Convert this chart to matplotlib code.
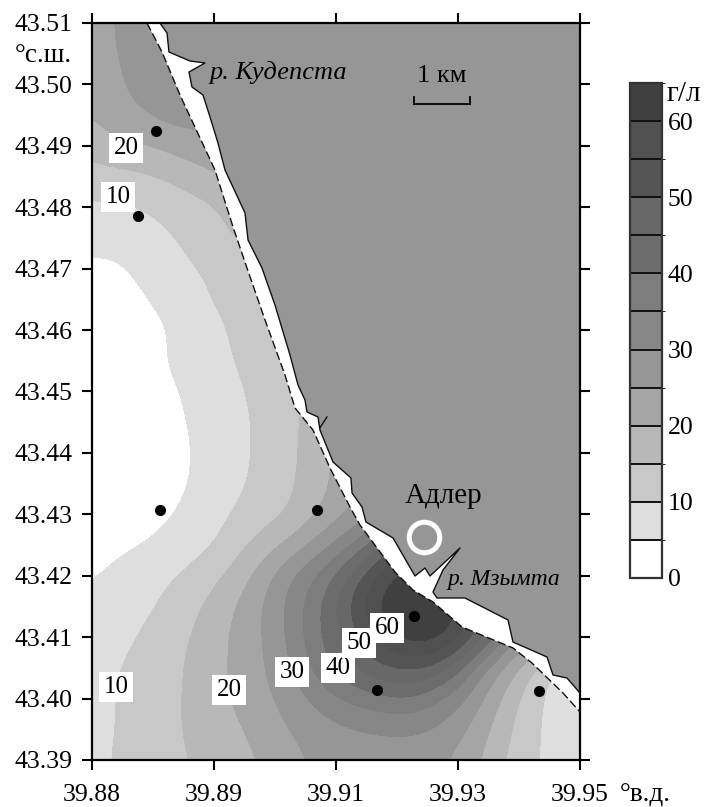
import numpy as np
import matplotlib
matplotlib.use("Agg")
import matplotlib.pyplot as plt
from matplotlib.colors import ListedColormap, BoundaryNorm
from matplotlib.lines import Line2D

plt.rcParams['font.family'] = ['Liberation Serif', 'DejaVu Serif']

W, H = 706, 807

# salinity, rows from north to south, columns from west to east
grid_lon = np.linspace(39.88, 39.95, 21)
grid_lat = np.linspace(43.51, 43.39, 25)
field = np.array([
    [22, 25.5, 28, 28, 28, 28, 28, 28, 28, 28, 28, 28, 28, 28, 28, 28, 28, 28, 28, 28, 28],
    [22, 25, 27.5, 28, 28, 28, 28, 28, 28, 28, 28, 28, 28, 28, 28, 28, 28, 28, 28, 28, 28],
    [21.5, 24, 27, 28, 28, 28, 28, 28, 28, 28, 28, 28, 28, 28, 28, 28, 28, 28, 28, 28, 28],
    [20.3, 23, 24.5, 27, 27, 27, 27, 28, 28, 28, 28, 28, 28, 28, 28, 28, 28, 28, 28, 28, 28],
    [17, 19.3, 19.7, 21, 23, 24, 25, 26, 28, 28, 28, 28, 28, 28, 28, 28, 28, 28, 28, 28, 28],
    [12.9, 13.3, 14.2, 15.5, 17.2, 19.5, 21, 22, 24, 26, 28, 28, 28, 28, 28, 28, 28, 28, 28, 28, 28],
    [9.2, 9.2, 9.8, 11.3, 13, 14.2, 17, 17, 18, 20, 24, 28, 28, 28, 28, 28, 28, 28, 28, 28, 28],
    [6.5, 6.6, 8, 9.3, 11.4, 13.9, 15.5, 15.5, 16, 18, 22, 28, 28, 28, 28, 28, 28, 28, 28, 28, 28],
    [4, 4.2, 5.7, 7, 9.5, 11, 13.5, 14, 14, 16, 20, 25, 28, 28, 28, 28, 28, 28, 28, 28, 28],
    [3.5, 3.6, 4.6, 6, 8, 10.4, 12, 13, 13.5, 15, 18, 24, 28, 28, 28, 28, 28, 28, 28, 28, 28],
    [3, 3, 3.6, 4.6, 6.8, 8.8, 11, 13, 14, 14.5, 16, 22, 28, 28, 28, 28, 28, 28, 28, 28, 28],
    [3, 3, 3, 5, 6.8, 8.6, 10.4, 12, 14, 14.5, 16, 20, 26, 28, 28, 28, 28, 28, 28, 28, 28],
    [3, 3, 3, 3.9, 5.8, 7.5, 9.5, 11.4, 13.8, 15.5, 17, 20, 24, 28, 28, 28, 28, 28, 28, 28, 28],
    [2.8, 2.8, 2.8, 3.5, 5.2, 7, 9, 11, 13.7, 16.5, 19, 21, 24, 28, 28, 28, 28, 28, 28, 28, 28],
    [2.8, 2.8, 2.9, 3.2, 4.8, 6.9, 8.9, 11, 13.6, 16.8, 21, 24, 26, 28, 28, 28, 28, 28, 28, 28, 28],
    [2.8, 2.8, 3, 3.4, 5, 7.1, 9.2, 11.5, 14, 17, 21, 25, 28, 30, 28, 28, 28, 28, 28, 28, 28],
    [3, 3.3, 3.8, 4.4, 6, 8.4, 10.7, 12.8, 14.8, 18.8, 23.2, 26.5, 32, 36, 30, 28, 28, 28, 28, 28, 28],
    [3.7, 4.1, 4.7, 5.9, 7.9, 9.8, 13.6, 17.2, 21, 25.8, 31, 37.5, 47, 52, 45, 35, 28, 28, 28, 28, 28],
    [4.6, 5.8, 7.6, 9.3, 11.2, 13.9, 17.5, 22.7, 29.2, 34.6, 41, 50, 58.5, 64, 62, 52, 35, 28, 28, 28, 28],
    [6, 7.8, 8.9, 10.8, 13.5, 16.8, 20.7, 25.2, 31, 37.4, 45.4, 55, 63, 66, 65, 61, 52, 40, 30, 28, 28],
    [7.5, 8.9, 10.2, 12.5, 15, 18.2, 21.3, 25, 30.5, 37.4, 44, 50.5, 58, 63, 63, 58, 47, 35, 28, 28, 28],
    [9, 9.7, 11.3, 13.3, 15.6, 18.5, 21.3, 24.6, 29, 35.8, 41, 47, 50, 51, 49.6, 41.8, 31, 23.3, 15.7, 8, 7],
    [8.5, 10, 11.9, 13.7, 15.6, 18.8, 20.8, 23.7, 26.8, 30.5, 35, 37, 39, 39.9, 36, 31.8, 25.3, 18.3, 11.8, 8, 7],
    [8.5, 10, 12.2, 13.8, 15.6, 17.6, 19.5, 22, 25, 26.9, 28.4, 29.8, 30.4, 30.5, 29.8, 26.5, 22, 16, 11.3, 8, 7],
    [8.5, 10.5, 12, 13.5, 15, 16.7, 18.5, 20.3, 23, 25.6, 26.5, 27, 27.2, 27.2, 26, 24, 19.6, 14.5, 11, 8, 7],
])

levels = list(range(0, 70, 5))
greys = ['#ffffff', '#dedede', '#c8c8c8', '#b8b8b8', '#a5a5a5', '#969696', '#878787',
         '#7d7d7d', '#6c6c6c', '#686868', '#545454', '#505050', '#404040']
cbar_ticks = [0, 10, 20, 30, 40, 50, 60]

# land side of the coast, with both river mouths
shore_lon = [39.88975, 39.89076, 39.89104, 39.89406, 39.89621, 39.89391, 39.89434, 39.89592,
             39.89693, 39.89807, 39.89908, 39.90195, 39.90238, 39.90438, 39.90625, 39.9084,
             39.90955, 39.91055, 39.91084, 39.91242, 39.9127, 39.91457, 39.91715, 39.9173,
             39.91873, 39.9193, 39.92318, 39.92633, 39.92777, 39.92848, 39.93279, 39.93035,
             39.92891, 39.92949, 39.9335, 39.93967, 39.94039, 39.94527, 39.94613, 39.94813, 39.95]
shore_lat = [43.51, 43.50837, 43.50528, 43.50381, 43.50349, 43.50202, 43.49958, 43.49828,
             43.49469, 43.49046, 43.48606, 43.47906, 43.47467, 43.47011, 43.46408, 43.45594,
             43.45106, 43.44862, 43.44666, 43.44585, 43.44373, 43.43852, 43.43592, 43.43347,
             43.43119, 43.42875, 43.42615, 43.41996, 43.42126, 43.41996, 43.42452, 43.42094,
             43.41735, 43.41638, 43.41638, 43.4128, 43.40921, 43.40677, 43.40384, 43.40335, 43.40091]

# sea side edge of the white strip
edge_lon = [39.88789, 39.89004, 39.89262, 39.89764, 39.90023, 39.90223, 39.90482, 39.90768,
            39.90912, 39.9117, 39.91414, 39.91701, 39.91844, 39.92346, 39.92604, 39.92891,
            39.93307, 39.94039, 39.94311, 39.94756, 39.95]
edge_lat = [43.51, 43.50528, 43.49828, 43.48606, 43.47678, 43.47011, 43.46164, 43.45269,
            43.44731, 43.44373, 43.43754, 43.43119, 43.42826, 43.42061, 43.41768, 43.41573,
            43.41166, 43.40824, 43.40579, 43.40091, 43.39782]

creek_lon = [39.9127, 39.9137]
creek_lat = [43.4441, 43.44585]

station_lon = [39.88918, 39.8866, 39.88975, 39.91227, 39.92619, 39.92088, 39.94412]
station_lat = [43.49241, 43.47857, 43.43071, 43.43071, 43.41345, 43.4014, 43.40123]

x_ticks = [39.88, 39.8975, 39.915, 39.9325, 39.95]
x_labels = ['39.88', '39.89', '39.91', '39.93', '39.95']
y_ticks = [43.39, 43.40, 43.41, 43.42, 43.43, 43.44, 43.45, 43.46, 43.47, 43.48, 43.49, 43.50, 43.51]

# contour labels: text, pixel x, pixel y
iso_labels = [('20', 126, 148), ('10', 118, 197), ('10', 116, 687), ('20', 229, 690),
              ('30', 292, 672), ('40', 338, 668), ('50', 359, 643), ('60', 387, 628)]


def fx(x):
    return x / W


def fy(y):
    return 1 - y / H


fig = plt.figure(figsize=(W / 100, H / 100), dpi=100)
ax = fig.add_axes([fx(92), fy(760), 488 / W, 737 / H])

cmap = ListedColormap(greys)
norm = BoundaryNorm(levels, len(greys), clip=True)
dlon = (grid_lon[1] - grid_lon[0]) / 2
dlat = (grid_lat[0] - grid_lat[1]) / 2
im = ax.imshow(field, cmap=cmap, norm=norm, aspect='auto', origin='upper',
               interpolation='bicubic', interpolation_stage='data',
               extent=[grid_lon[0] - dlon, grid_lon[-1] + dlon, grid_lat[-1] - dlat, grid_lat[0] + dlat])

# land, then white strip along the shore
ax.fill(shore_lon + [39.95], shore_lat + [43.51], color='#969696', lw=0, zorder=2)
ax.fill(edge_lon + shore_lon[::-1], edge_lat + shore_lat[::-1], color='white', lw=0, zorder=2)
ax.plot(shore_lon, shore_lat, color='#111111', lw=1.0, zorder=3)
ax.plot(edge_lon, edge_lat, color='#111111', lw=1.0, ls=(0, (6, 2.5)), zorder=3)
ax.plot(creek_lon, creek_lat, color='#111111', lw=1.0, zorder=3)

ax.plot(station_lon, station_lat, 'o', color='black', ms=7, ls='none', zorder=4)
ax.plot([39.92762], [43.42631], 'o', mfc='none', mec='white', mew=3.6, ms=22, zorder=4)

ax.set_xlim(39.88, 39.95)
ax.set_ylim(43.39, 43.51)
ax.set_xticks(x_ticks)
ax.set_xticklabels(x_labels)
ax.set_yticks(y_ticks)
ax.set_yticklabels(['%.2f' % v for v in y_ticks])
ax.tick_params(axis='both', direction='out', length=7.5, width=1.5, labelsize=18.5, top=True, right=True)
ax.tick_params(axis='x', pad=10)
ax.tick_params(axis='y', pad=6.5)
for s in ax.spines.values():
    s.set_linewidth(1.6)

# colour bar
cax = fig.add_axes([fx(630), fy(578), 32 / W, 495 / H])
cbar = fig.colorbar(im, cax=cax, boundaries=levels, ticks=cbar_ticks, drawedges=True, spacing='proportional')
cbar.ax.tick_params(length=0, labelsize=18.5, pad=4)
cbar.outline.set_linewidth(1.6)
cbar.outline.set_edgecolor('#333333')
cbar.dividers.set_linewidth(1.4)
cbar.dividers.set_color('#111111')
fig.text(fx(667), fy(94), 'г/л', fontsize=21, va='center', ha='left')

for txt, x, y in iso_labels:
    fig.text(fx(x), fy(y), txt, fontsize=18, ha='center', va='center', zorder=6,
             bbox=dict(facecolor='white', edgecolor='none', pad=3))

fig.text(fx(72), fy(55), '°с.ш.', fontsize=19.5, ha='right', va='center')
fig.text(fx(620), fy(795), '°в.д.', fontsize=19.5, ha='left', va='center')
fig.text(fx(210), fy(73), 'р. Кудепста', fontsize=19, style='italic', ha='left', va='center')
fig.text(fx(447), fy(580), 'р. Мзымта', fontsize=17, style='italic', ha='left', va='center')
fig.text(fx(444), fy(496), 'Адлер', fontsize=21, ha='center', va='center')
fig.text(fx(442), fy(76), '1 км', fontsize=19, ha='center', va='center')

# scale bar
for xs, ys in [((414, 470), (104, 104)), ((414, 414), (97, 104)), ((470, 470), (97, 104))]:
    fig.add_artist(Line2D([fx(v) for v in xs], [fy(v) for v in ys], color='black', lw=1.3))

fig.savefig('out.png', dpi=100)
